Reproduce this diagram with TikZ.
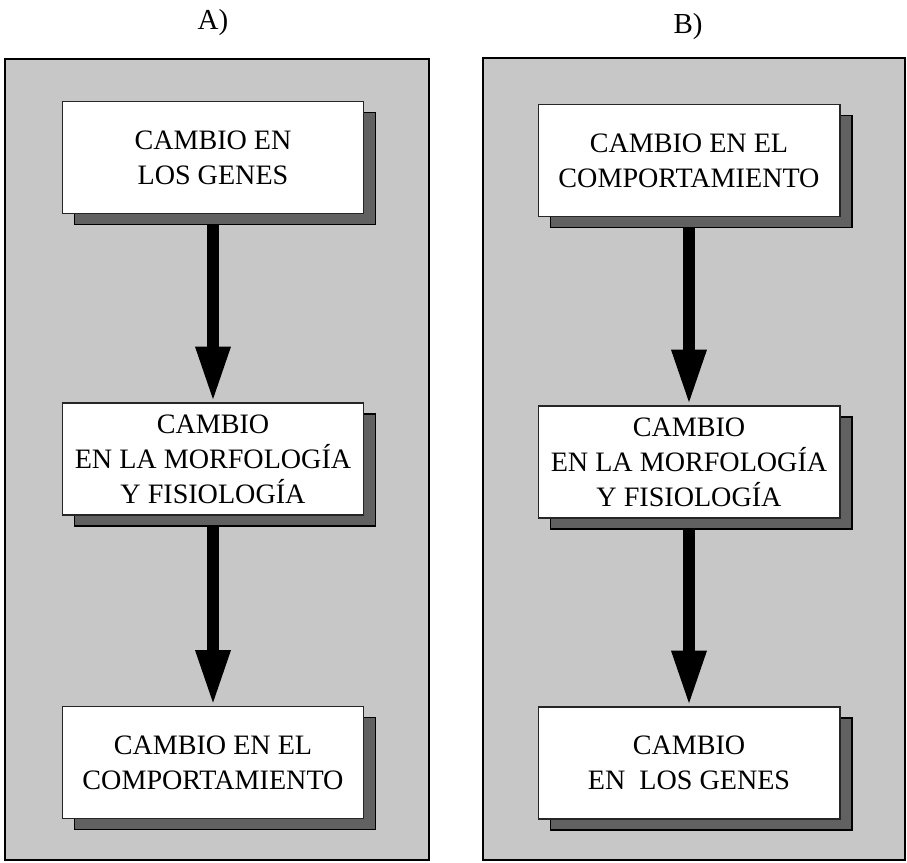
\documentclass[tikz,border=0pt]{standalone}
\usepackage{fontspec}
\setmainfont{Liberation Serif}
\usetikzlibrary{arrows.meta,shadows}

\tikzset{
	panel/.style={draw=black, line width=0.8pt, fill=black!22},
	caja/.style={draw=black!85, line width=0.6pt, fill=white, align=center,
		minimum width=6.04cm, minimum height=2.24cm, inner sep=0pt,
		font=\fontsize{16}{20}\selectfont,
		drop shadow={shadow xshift=0.24cm, shadow yshift=-0.22cm, fill=black!62, draw=black, opacity=1}},
	titulo/.style={font=\fontsize{16.5}{20}\selectfont},
	flecha/.style={line width=0.24cm, -{Triangle[width=0.64cm,length=1.12cm]}, shorten <=0.22cm}
}

\begin{document}
\begin{tikzpicture}[x=0.02cm, y=-0.02cm]
		\useasboundingbox (0,0) rectangle (907,863);
		\draw[panel] (5,59) rectangle (429,860);
		\draw[panel] (483,58) rectangle (905,860);
		\node[titulo] (ta) at (213,23) {A)};
		\node[titulo] (tb) at (688,27) {B)};
		\node[caja] (a1) at (213,157.5) {CAMBIO EN\\LOS GENES};
		\node[caja] (a2) at (213,459) {CAMBIO\\EN LA MORFOLOGÍA\\Y FISIOLOGÍA};
		\node[caja] (a3) at (213,762.5) {CAMBIO EN EL\\COMPORTAMIENTO};
		\node[caja] (b1) at (689,160.5) {CAMBIO EN EL\\COMPORTAMIENTO};
		\node[caja] (b2) at (689,462) {CAMBIO\\EN LA MORFOLOGÍA\\Y FISIOLOGÍA};
		\node[caja] (b3) at (689,763) {CAMBIO\\EN\ \ LOS GENES};
		\foreach \s/\t in {a1/a2,a2/a3,b1/b2,b2/b3}{
			\draw[flecha] (\s.south) -- (\t.north);
		}
	\end{tikzpicture}
\end{document}
